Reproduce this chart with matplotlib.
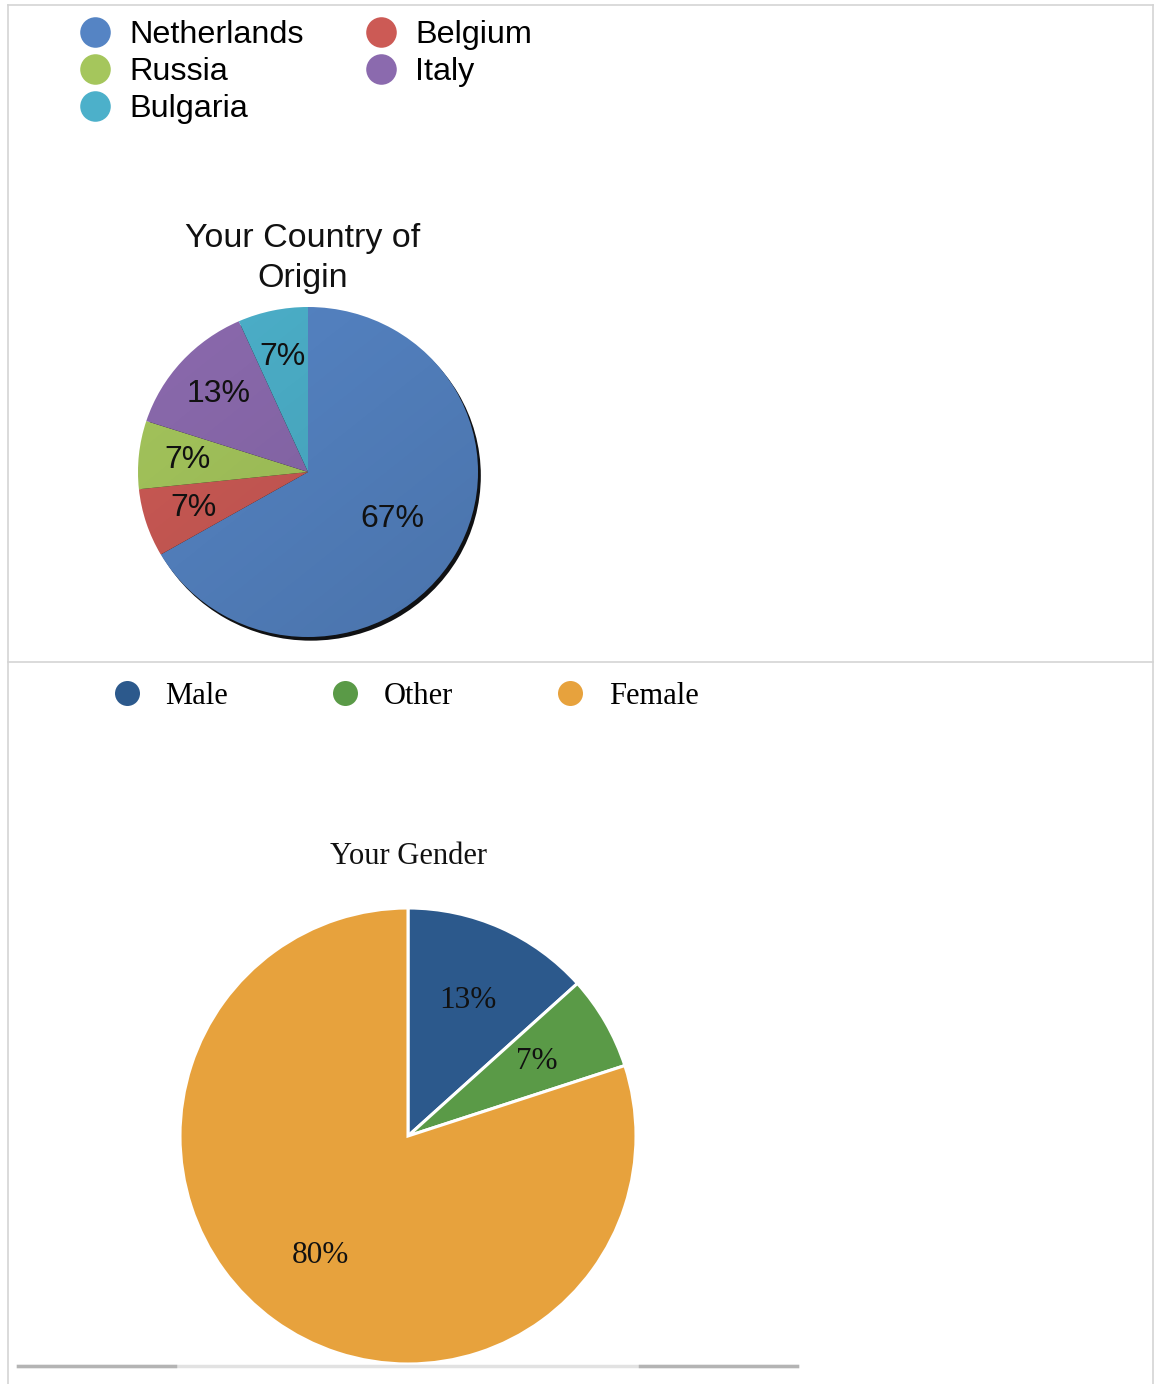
import matplotlib
matplotlib.use("Agg")
import matplotlib.pyplot as plt
from matplotlib.lines import Line2D
from matplotlib.patches import Ellipse
import numpy as np

# ---------------- data ----------------
countries = ["Netherlands", "Belgium", "Russia", "Italy", "Bulgaria"]
country_counts = [10, 1, 1, 2, 1]
country_labels = ["67%", "7%", "7%", "13%", "7%"]
country_colors = ["#5584c4", "#cc5a55", "#a5c65c", "#8b6aae", "#4cb0ca"]
country_label_dist = [0.57, 0.71, 0.71, 0.71, 0.71]
country_legend_order = ["Netherlands", "Russia", "Bulgaria", "Belgium", "Italy"]

genders = ["Male", "Other", "Female"]
gender_counts = [2, 1, 12]
gender_labels = ["13%", "7%", "80%"]
gender_colors = ["#2c598c", "#5a9a47", "#e7a23d"]

W, H = 1161, 1384
fig = plt.figure(figsize=(W / 100, H / 100), dpi=100)


def rect(left, top, width, height):
    return [left / W, 1 - (top + height) / H, width / W, height / H]


def fx(x):
    return x / W


def fy(y):
    return 1 - y / H


# --------------- frame lines ---------------
gray = "#d4d4d4"
fig.add_artist(Line2D([fx(8), fx(1153)], [fy(5), fy(5)], color=gray, lw=1.2))
fig.add_artist(Line2D([fx(8), fx(8)], [fy(5), fy(1384)], color=gray, lw=1.2))
fig.add_artist(Line2D([fx(1153), fx(1153)], [fy(5), fy(1384)], color=gray, lw=1.2))
fig.add_artist(Line2D([fx(8), fx(1153)], [fy(662), fy(662)], color=gray, lw=1.2))

# --------------- top pie ---------------
sans = "Liberation Sans"
cx, cy, rx, ry = 308, 472, 170, 165
ax1 = fig.add_axes(rect(cx - 1.1 * rx, cy - 1.1 * ry, 2.2 * rx, 2.2 * ry))
wedges, _ = ax1.pie(country_counts, colors=country_colors, startangle=90,
                    counterclock=False, radius=1.0,
                    shadow={"ox": 0.012, "oy": -0.016, "shade": 0.97,
                            "alpha": 0.95},
                    wedgeprops=dict(linewidth=0))

# subtle gradient shading over the pie (darker toward lower right)
grad = np.linspace(0, 1, 256)
gx, gy = np.meshgrid(grad, grad)
a = 0.13 * (0.45 * gx + 0.55 * gy)
overlay = np.zeros((256, 256, 4))
overlay[..., 3] = a
im = ax1.imshow(overlay, extent=(-1, 1, -1, 1), origin="upper", zorder=3,
                aspect="auto")
clip = Ellipse((0, 0), 2.0, 2.0, transform=ax1.transData)
im.set_clip_path(clip)

ax1.set_aspect("auto")
ax1.set_xlim(-1.1, 1.1)
ax1.set_ylim(-1.1, 1.1)
ax1.axis("off")

for w, lab, d in zip(wedges, country_labels, country_label_dist):
    ang = np.deg2rad((w.theta1 + w.theta2) / 2)
    ax1.text(d * np.cos(ang), d * np.sin(ang), lab, ha="center", va="center",
             fontsize=23, family=sans, color="#111111", zorder=5)

fig.text(fx(303), fy(239), "Your Country of", ha="center", va="center",
         fontsize=24.5, family=sans, color="#111111")
fig.text(fx(303), fy(278), "Origin", ha="center", va="center",
         fontsize=24.5, family=sans, color="#111111")

cmap = dict(zip(countries, country_colors))
handles1 = [Line2D([], [], marker="o", ls="", markersize=22,
                   markerfacecolor=cmap[c], markeredgecolor="none", label=c)
            for c in country_legend_order]
fig.legend(handles=handles1, ncol=2, loc="upper left",
           bbox_to_anchor=(fx(79), fy(20)), frameon=False,
           prop={"family": sans, "size": 23.3}, handlelength=1.0,
           handletextpad=0.55, columnspacing=1.9, labelspacing=0.22,
           borderpad=0, borderaxespad=0)

# --------------- bottom pie ---------------
serif = "Liberation Serif"
cx2, cy2, r2 = 408, 1136, 228
ax2 = fig.add_axes(rect(cx2 - 1.1 * r2, cy2 - 1.1 * r2, 2.2 * r2, 2.2 * r2))
wedges2, _ = ax2.pie(gender_counts, colors=gender_colors, startangle=90,
                     counterclock=False, radius=1.0,
                     wedgeprops=dict(linewidth=2.2, edgecolor="white"))
ax2.set_xlim(-1.1, 1.1)
ax2.set_ylim(-1.1, 1.1)
ax2.axis("off")
for w, lab in zip(wedges2, gender_labels):
    ang = np.deg2rad((w.theta1 + w.theta2) / 2)
    ax2.text(0.65 * np.cos(ang), 0.65 * np.sin(ang), lab, ha="center",
             va="center", fontsize=22.5, family=serif, color="#111111")

fig.text(fx(408), fy(856), "Your Gender", ha="center", va="center",
         fontsize=22, family=serif, color="#111111")

handles2 = [Line2D([], [], marker="o", ls="", markersize=18,
                   markerfacecolor=c, markeredgecolor="none", label=g)
            for g, c in zip(genders, gender_colors)]
fig.legend(handles=handles2, ncol=3, loc="upper left",
           bbox_to_anchor=(fx(113), fy(682)), frameon=False,
           prop={"family": serif, "size": 22}, handlelength=0.9,
           handletextpad=0.8, columnspacing=3.4,
           borderpad=0, borderaxespad=0)

# bottom scroll-like line
fig.add_artist(Line2D([fx(18), fx(797)], [fy(1366), fy(1366)], color="#e2e2e2", lw=2.5))
fig.add_artist(Line2D([fx(18), fx(175)], [fy(1366), fy(1366)], color="#b4b4b4", lw=2.5))
fig.add_artist(Line2D([fx(640), fx(797)], [fy(1366), fy(1366)], color="#b4b4b4", lw=2.5))

fig.savefig("out.png", dpi=100, facecolor="white")
